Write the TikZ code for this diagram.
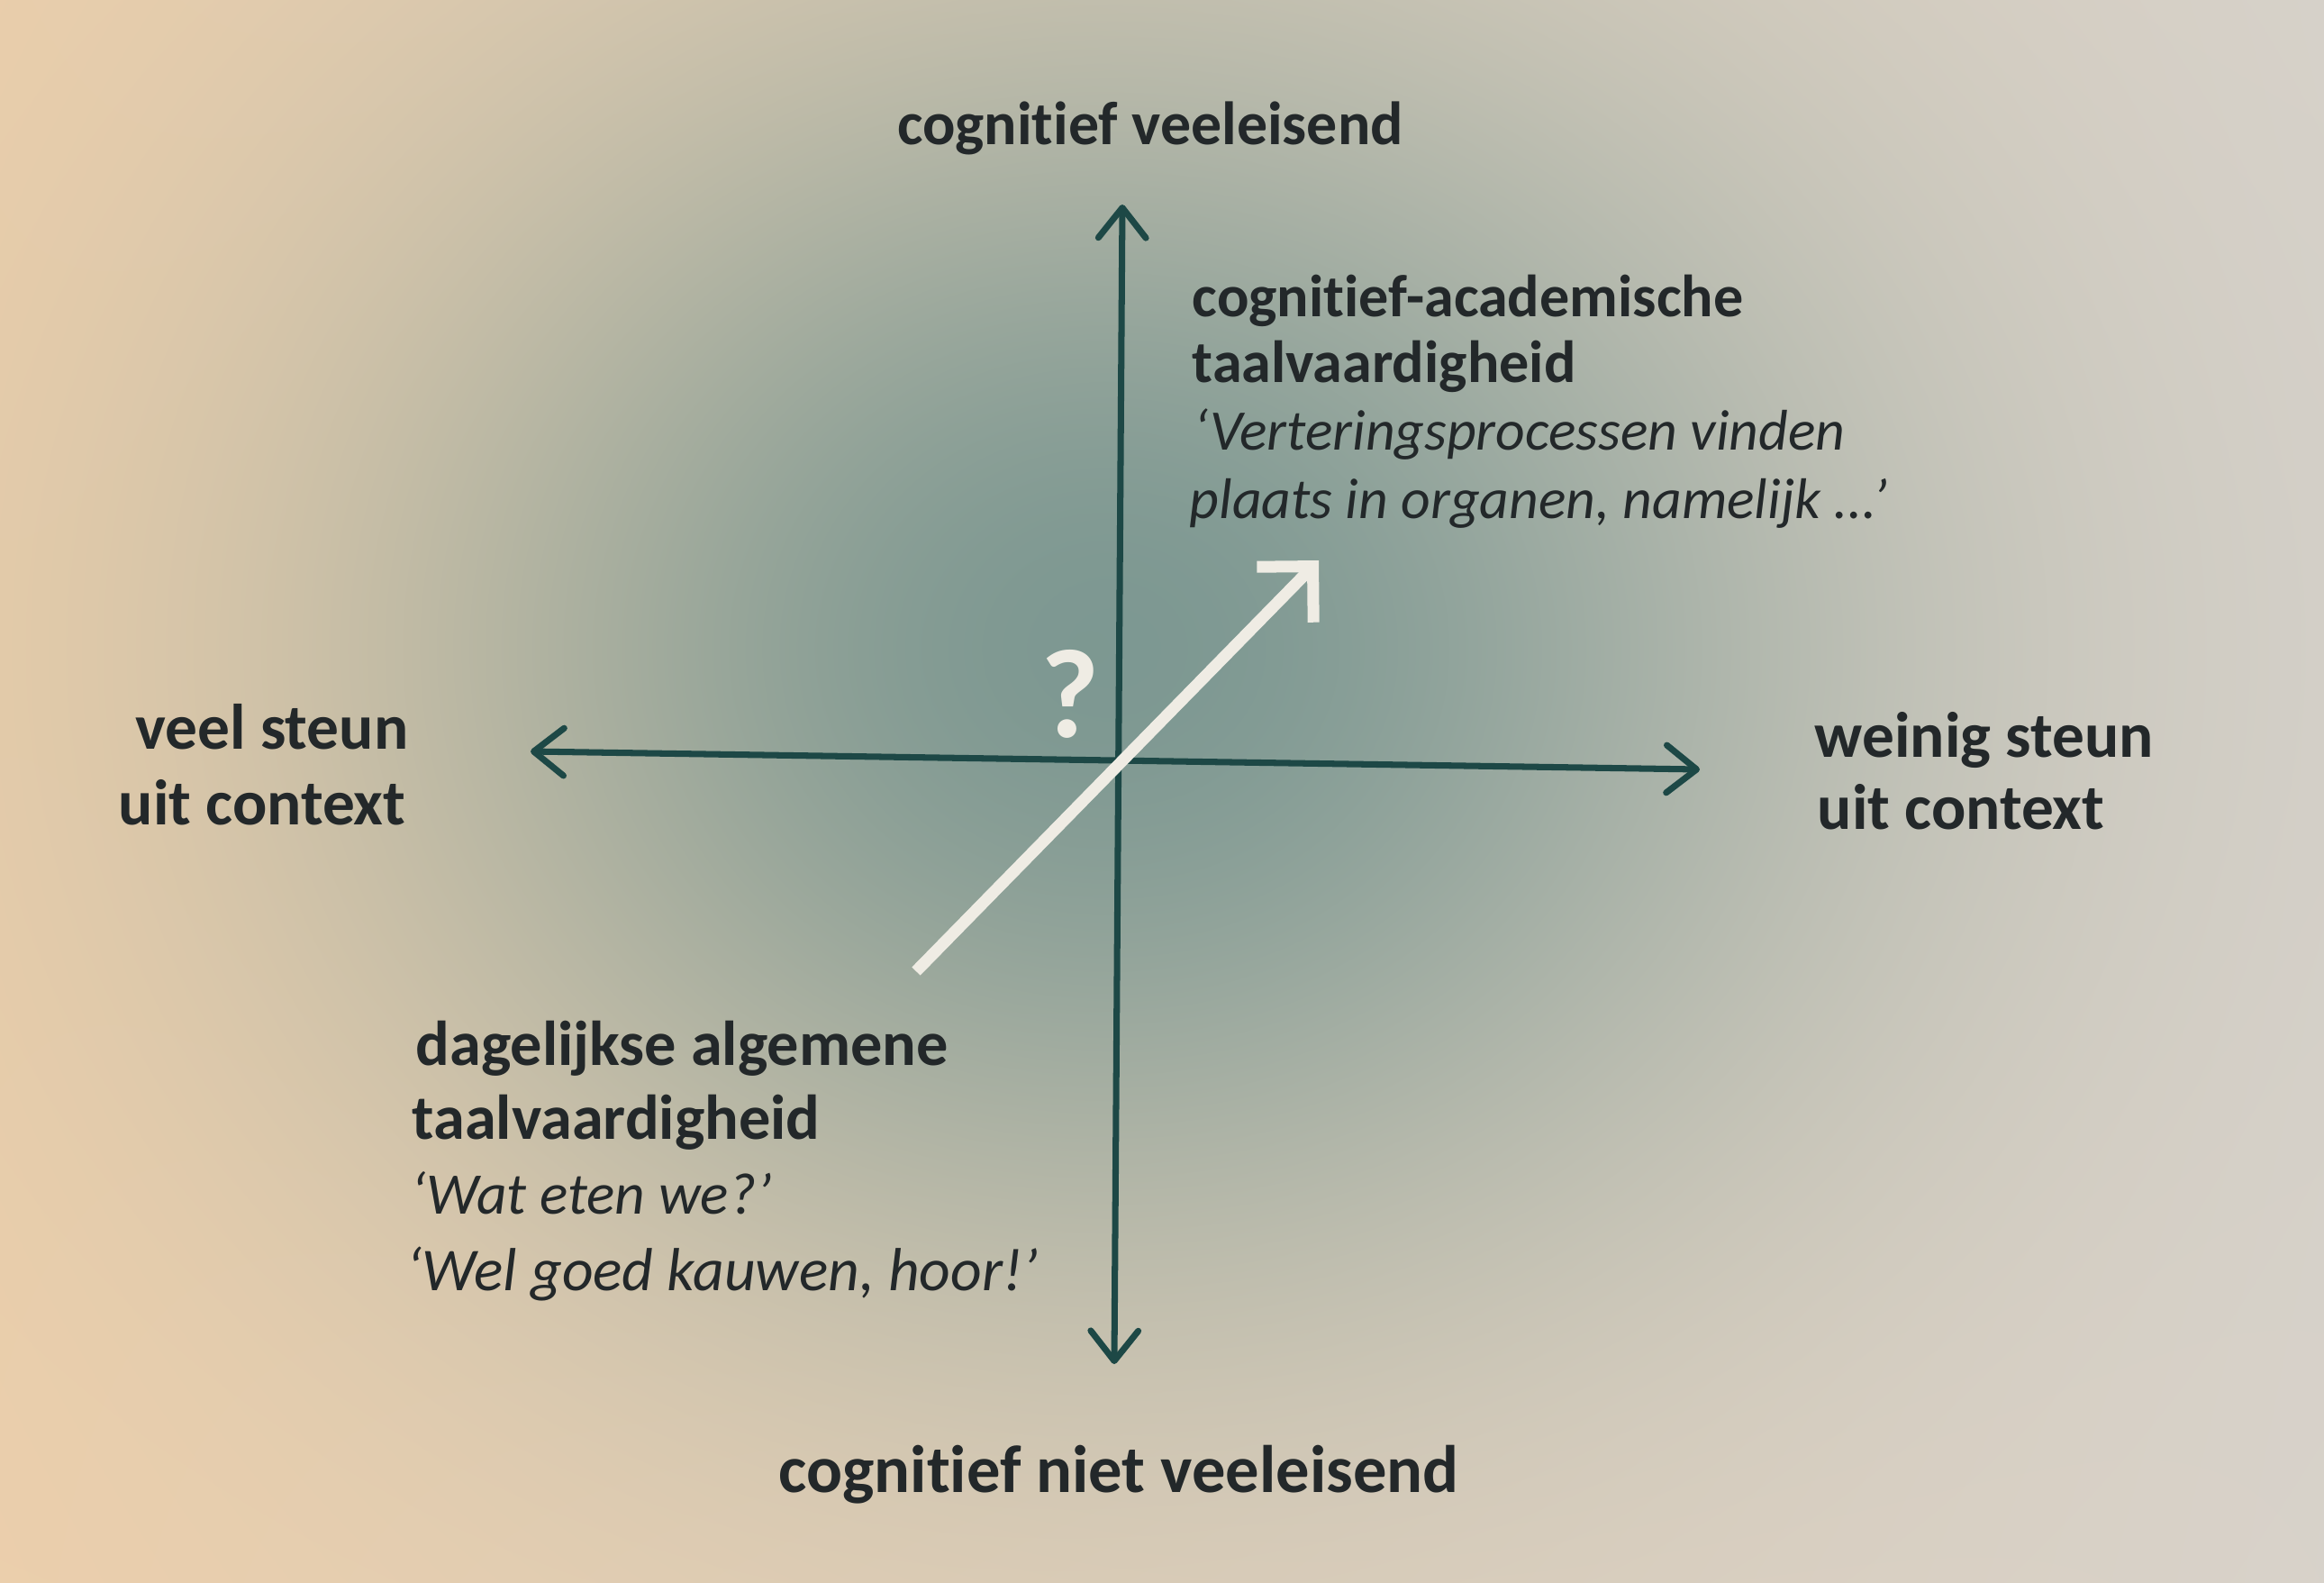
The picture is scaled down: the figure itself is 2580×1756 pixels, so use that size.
\documentclass[tikz,border=0pt]{standalone}
\usepackage{fontspec}
\setmainfont{Carlito}[Ligatures=NoCommon]
\usetikzlibrary{arrows.meta}
\definecolor{axisc}{HTML}{1D4846}
\definecolor{ink}{HTML}{23282A}
\definecolor{chalk}{HTML}{EFECE4}
% paper with a soft teal blob: horizontal peach->grey gradient mixed with a gaussian blob
\pgfdeclarefunctionalshading{paper}{\pgfpoint{0bp}{0bp}}{\pgfpoint{731.34bp}{497.76bp}}{}{
 exch dup 731.34 div 3 1 roll
 348.66 sub 243.8 div dup mul exch 293.67 sub 209.8 div dup mul add
 -1.1765 mul 2.71828 exch exp 0.76 mul
 1 index -0.078 mul 0.925 add 1 index 1 exch sub mul 1 index 0.365 mul add 3 1 roll
 1 index 0.012 mul 0.812 add 1 index 1 exch sub mul 1 index 0.525 mul add 3 1 roll
 1 index 0.117 mul 0.675 add 1 index 1 exch sub mul 1 index 0.520 mul add
 3 1 roll pop pop
}
\tikzset{
  txt/.style={inner sep=0pt, text=ink},
  bold/.style={txt, font=\bfseries\fontsize{#1}{#1}\selectfont},
  ital/.style={txt, font=\itshape\fontsize{#1}{#1}\selectfont},
  axisline/.style={draw=axisc, line width=2pt, line cap=round,
    {Straight Barb[length=9.5pt,width=15pt,line cap=round,line join=round]}-{Straight Barb[length=9.5pt,width=15pt,line cap=round,line join=round]}},
  chalkarrow/.style={draw=chalk, line width=3.7pt,
    -{Straight Barb[length=12.5pt,width=25pt,line cap=butt,line join=miter]}}
}
\begin{document}
\begin{tikzpicture}[x=0.01cm,y=-0.01cm]
\useasboundingbox (0,0) rectangle (2580,1756);
\clip (0,0) rectangle (2580,1756);
% paper background
\node[inner sep=0pt, outer sep=0pt, anchor=south west] (paper) at (0,1756) {\pgfuseshading{paper}};

% axes
\coordinate (vtop) at (1246,227);
\coordinate (vbot) at (1237,1514);
\coordinate (hl) at (589,834);
\coordinate (hr) at (1887,854);
\draw[axisline] (vbot) -- (vtop);
\draw[axisline] (hl) -- (hr);

% diagonal arrow
\coordinate (ds) at (1017,1078);
\coordinate (de) at (1464,622);
\draw[chalkarrow] (ds) -- (de);
\node[txt, text=chalk, font=\bfseries\fontsize{40}{40}\selectfont] (q) at (1188,770) {?};

% labels
\node[bold=19.3, anchor=base] (top) at (1277,160) {cognitief veeleisend};
\node[bold=21.2, anchor=base] (bottom) at (1242,1656) {cognitief niet veeleisend};

\node[bold=20.3, anchor=base east] (l1) at (454,831) {veel steun};
\node[bold=20.3, anchor=base east] (l2) at (451,915) {uit context};

\node[bold=20.3, anchor=base west] (r1) at (2014,840) {weinig steun};
\node[bold=20.3, anchor=base west] (r2) at (2017,920) {uit context};

\node[bold=18.8, anchor=base west] (ur1) at (1323,351) {cognitief-academische};
\node[bold=18.8, anchor=base west] (ur2) at (1323,424) {taalvaardigheid};
\node[ital=18.1, anchor=base west] (ur3) at (1325,499) {‘Verteringsprocessen vinden};
\node[ital=18.1, anchor=base west] (ur4) at (1320,575) {plaats in organen, namelijk ...’};

\node[bold=20, anchor=base west] (ll1) at (461,1182) {dagelijkse algemene};
\node[bold=20, anchor=base west] (ll2) at (457,1264) {taalvaardigheid};
\node[ital=18.6, anchor=base west] (ll3) at (456,1347) {‘Wat eten we?’};
\node[ital=19.2, anchor=base west] (ll4) at (451,1432) {‘Wel goed kauwen, hoor!’};
\end{tikzpicture}
\end{document}
